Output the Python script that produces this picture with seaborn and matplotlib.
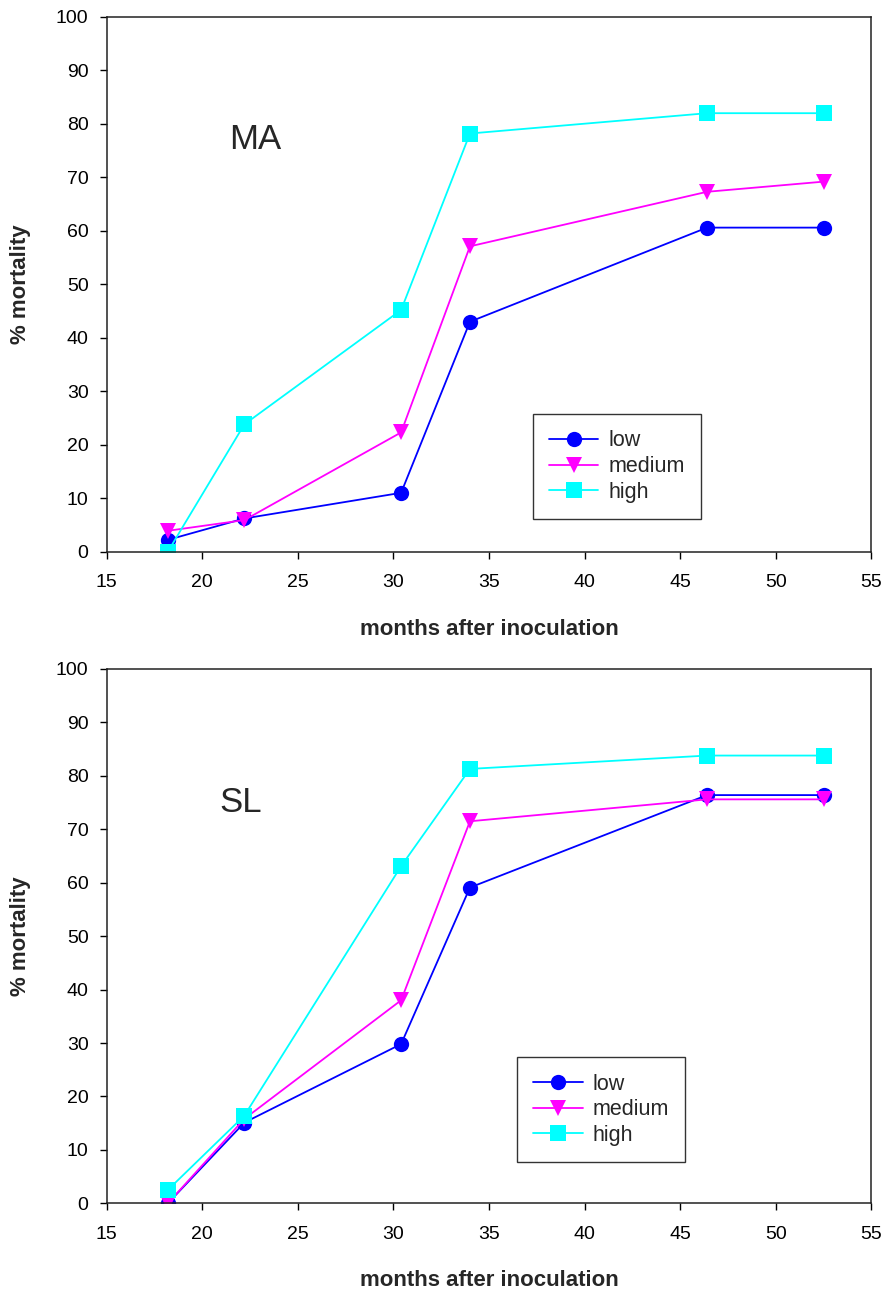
import numpy as np
import pandas as pd
import matplotlib
matplotlib.use("Agg")
import matplotlib.pyplot as plt
import seaborn as sns

# Months after inoculation at each assessment
months = [18.2, 22.2, 30.4, 34.0, 46.4, 52.5]
levels = ["low", "medium", "high"]

# % mortality, site MA
ma_low = [2.2, 6.2, 11.0, 43.0, 60.6, 60.6]
ma_medium = [3.9, 5.9, 22.3, 57.1, 67.3, 69.2]
ma_high = [0.0, 23.8, 45.2, 78.2, 82.0, 82.0]

# % mortality, site SL
sl_low = [0.0, 15.1, 29.8, 59.1, 76.4, 76.4]
sl_medium = [0.0, 15.8, 38.0, 71.5, 75.6, 75.6]
sl_high = [2.5, 16.4, 63.1, 81.3, 83.8, 83.8]

sns.set_style("ticks")
plt.rcParams["font.family"] = ["Liberation Sans", "DejaVu Sans"]

palette = {"low": "#0000FF", "medium": "#FF00FF", "high": "#00FFFF"}
markers = {"low": "o", "medium": "v", "high": "s"}


def long_frame(low, medium, high):
    rows = []
    for lvl, vals in zip(levels, [low, medium, high]):
        for m, v in zip(months, vals):
            rows.append({"months": m, "mortality": v, "level": lvl})
    return pd.DataFrame(rows)


fig = plt.figure(figsize=(8.86, 12.94), dpi=100)
ax_top = fig.add_axes([0.1204, 0.5737, 0.8632, 0.4132])
ax_bot = fig.add_axes([0.1204, 0.0701, 0.8632, 0.4129])

panels = [
    (ax_top, long_frame(ma_low, ma_medium, ma_high), "MA", (22.76, 77.1), (0.557, 0.061)),
    (ax_bot, long_frame(sl_low, sl_medium, sl_high), "SL", (22.0, 75.1), (0.5365, 0.077)),
]

for ax, df, name, txt_xy, leg_xy in panels:
    sns.lineplot(
        data=df, x="months", y="mortality", hue="level", style="level",
        hue_order=levels, style_order=levels, palette=palette,
        markers=markers, dashes=False, markersize=11, linewidth=1.3,
        markeredgewidth=0, ax=ax,
    )
    ax.set_xlim(15, 55)
    ax.set_ylim(0, 100)
    ax.set_xticks(np.arange(15, 56, 5))
    ax.set_yticks(np.arange(0, 101, 10))
    ax.tick_params(axis="both", direction="out", length=5, width=1,
                   labelsize=14, colors="black")
    ax.tick_params(axis="x", pad=11)
    ax.tick_params(axis="y", pad=8)
    for sp in ax.spines.values():
        sp.set_visible(True)
        sp.set_linewidth(1.1)
        sp.set_color("#222222")
    ax.set_xlabel("months after inoculation", fontsize=16, fontweight="bold",
                  labelpad=20)
    ax.set_ylabel("% mortality", fontsize=16, fontweight="bold", labelpad=18)
    ax.text(txt_xy[0], txt_xy[1], name, fontsize=25, ha="center", va="center")

    handles, labels = ax.get_legend_handles_labels()
    leg = ax.legend(handles, labels, loc="lower left", bbox_to_anchor=leg_xy,
                    borderaxespad=0, fontsize=15.5, frameon=True, fancybox=False,
                    framealpha=1, edgecolor="#333333", handlelength=2.3,
                    labelspacing=0.22, borderpad=0.75, handletextpad=0.47,
                    title=None)
    leg.get_frame().set_linewidth(1.0)

fig.savefig("out.png", dpi=100)
